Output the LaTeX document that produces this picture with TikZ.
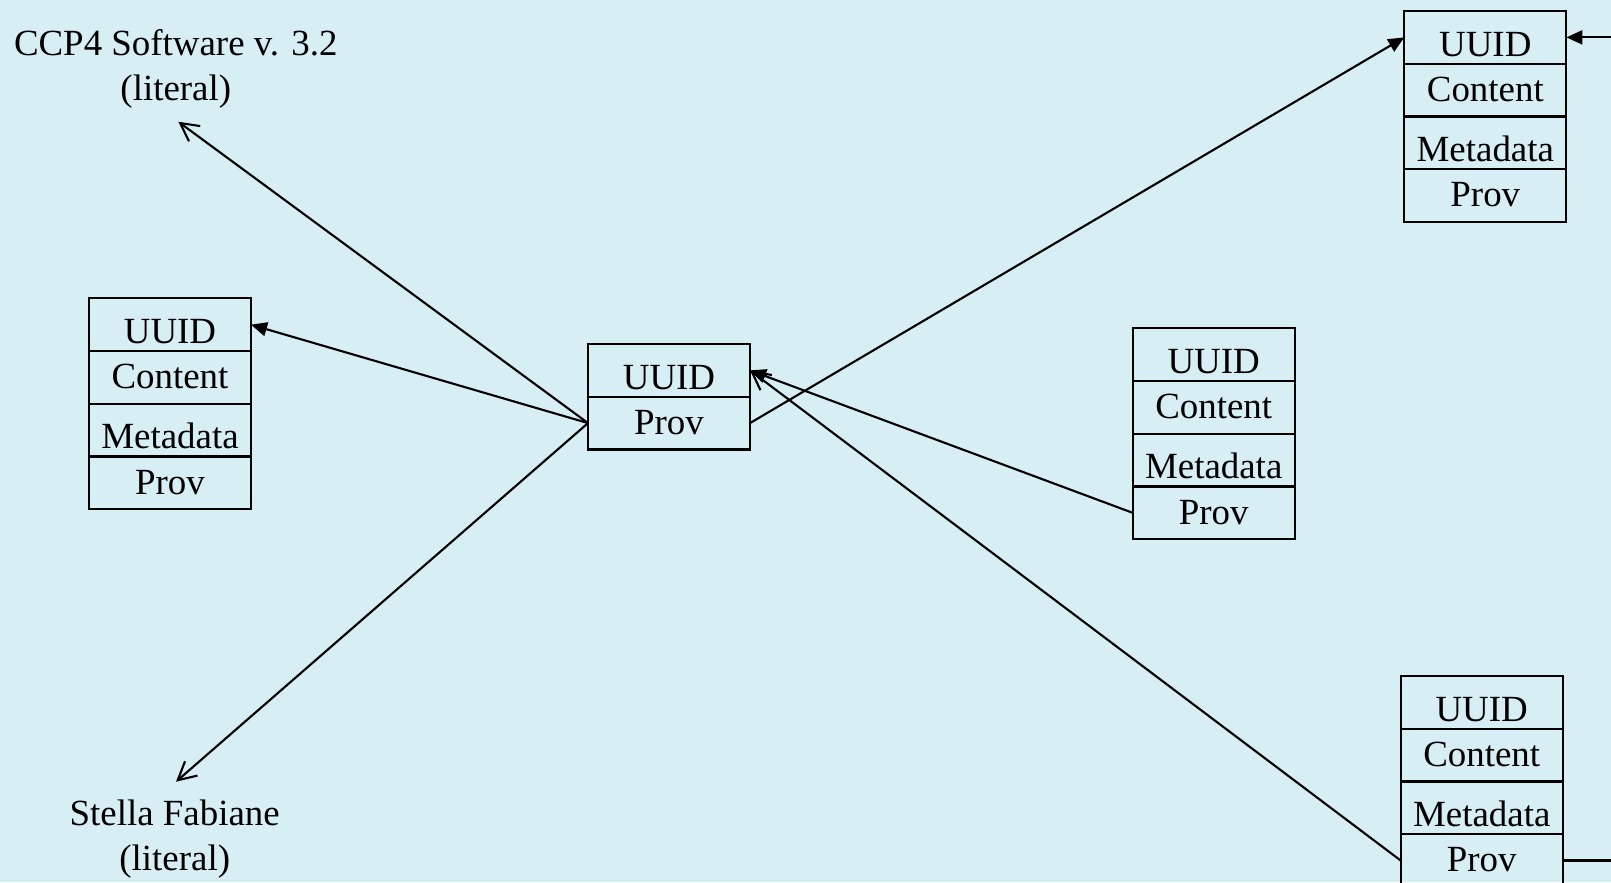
\documentclass[tikz,border=0pt]{standalone}
\usepackage{fontspec}
\setmainfont{Liberation Serif}
\usetikzlibrary{arrows.meta,positioning}
\definecolor{paleblue}{RGB}{215,238,244}

\begin{document}
\begin{tikzpicture}[>={Triangle[length=1.6mm,width=1.4mm]},line width=0.6pt,
  font=\fontsize{10.5}{12.8}\selectfont,
  cell/.style={draw,minimum width=1.62cm,inner xsep=0pt,inner ysep=0pt,outer sep=0pt},
  hi/.style={cell,text height=10.7pt,text depth=4.3pt},
  lo/.style={cell,text height=12.8pt,text depth=2.2pt},
  lit/.style={align=center,anchor=base},
  barb/.style={-{Straight Barb[length=1.8mm,width=1.9mm]}}]
\useasboundingbox (0,0) rectangle (16.11,-8.82);
\fill[paleblue] (0,0) rectangle (16.11,-8.82);

% literals (base = last line)
\node[lit] (ccp) at (1.758,-1.0) {CCP4 Software v. 3.2\\(literal)};
\node[lit] (stella) at (1.747,-8.70) {Stella Fabiane\\(literal)};
\coordinate (ccpTip) at (1.783,-1.217);
\coordinate (stellaTip) at (1.76,-7.817);

% left record
\node[lo,anchor=north west] (lU) at (0.89,-2.983) {UUID};
\node[hi,below=0pt of lU] (lC) {Content};
\node[lo,below=0pt of lC] (lM) {Metadata};
\node[hi,below=0pt of lM] (lP) {Prov};

% centre record
\node[lo,anchor=north west] (cU) at (5.88,-3.44) {UUID};
\node[hi,below=0pt of cU] (cP) {Prov};

% middle right record
\node[lo,anchor=north west] (mU) at (11.327,-3.283) {UUID};
\node[hi,below=0pt of mU] (mC) {Content};
\node[lo,below=0pt of mC] (mM) {Metadata};
\node[hi,below=0pt of mM] (mP) {Prov};

% top right record
\node[lo,anchor=north west] (tU) at (14.043,-0.11) {UUID};
\node[hi,below=0pt of tU] (tC) {Content};
\node[lo,below=0pt of tC] (tM) {Metadata};
\node[hi,below=0pt of tM] (tP) {Prov};

% bottom right record
\node[lo,anchor=north west] (bU) at (14.007,-6.76) {UUID};
\node[hi,below=0pt of bU] (bC) {Content};
\node[lo,below=0pt of bC] (bM) {Metadata};
\node[hi,below=0pt of bM] (bP) {Prov};

\coordinate (offTop) at ([xshift=1cm]tU.east);
\coordinate (offBot) at ([xshift=1cm]bP.east);

% links
\draw[barb] (cP.west) -- (ccpTip);
\draw[->] (cP.west) -- (lU.east);
\draw[barb] (cP.west) -- (stellaTip);
\draw[->] (cP.east) -- (tU.west);
\draw[->] (mP.west) -- (cU.east);
\draw[barb] (bP.west) -- (cU.east);
\draw[->] (offTop) -- (tU.east);
\draw (bP.east) -- (offBot);
\end{tikzpicture}
\end{document}
